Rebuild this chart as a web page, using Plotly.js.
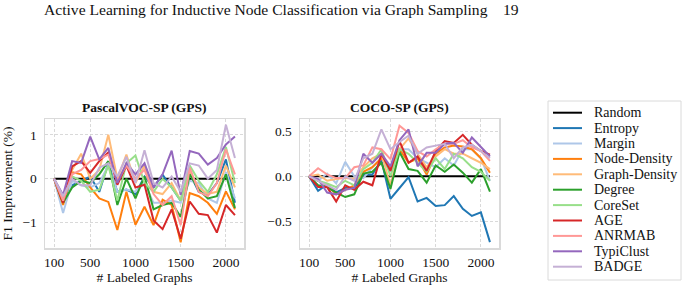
<!DOCTYPE html>
<html>
<head>
<meta charset="utf-8">
<script src="https://cdn.plot.ly/plotly-3.0.1.min.js"></script>
<style>
  html, body { margin: 0; padding: 0; background: #ffffff; }
  #chart { width: 694px; height: 293px; }
</style>
</head>
<body>
<div id="chart"></div>
<script>
// Labeled-graph budgets (x axis of both panels)
const budgets = [100, 200, 300, 400, 500, 600, 700, 800, 900, 1000, 1100,
                 1200, 1300, 1400, 1500, 1600, 1700, 1800, 1900, 2000, 2100];

const methods = ['Random', 'Entropy', 'Margin', 'Node-Density', 'Graph-Density',
                 'Degree', 'CoreSet', 'AGE', 'ANRMAB', 'TypiClust', 'BADGE'];

const methodColors = ['#000000', '#1f77b4', '#aec7e8', '#ff7f0e', '#ffbb78',
                      '#2ca02c', '#98df8a', '#d62728', '#ff9896', '#9467bd', '#c5b0d5'];

// PascalVOC-SP (GPS): F1 improvement over Random (%)
const vocRandom       = [0, 0, 0, 0, 0, 0, 0, 0, 0, 0, 0, 0, 0, 0, 0, 0, 0, 0, 0, 0, 0];
const vocEntropy      = [0, -0.50, -0.15, -0.05, 0.05, -0.30, 0.35, -0.30, -0.25, -0.35, 0.05, -0.20, 0.09, -0.20, -0.50, 0.12, -0.30, -0.37, -0.10, 0.44, -0.55];
const vocMargin       = [0, -0.78, -0.05, -0.15, -0.20, -0.10, 0.30, -0.30, -0.25, -0.30, -0.10, -0.55, -0.55, -0.50, -0.55, -0.05, -0.10, -0.45, -0.55, 0.15, -0.45];
const vocNodeDensity  = [0, -0.60, 0.15, 0.10, -0.20, -0.45, -0.53, -1.17, -0.30, -1.05, -0.64, -1.06, -0.48, -0.60, -1.45, -0.33, -0.40, -0.55, -0.80, -0.29, -0.70];
const vocGraphDensity = [0, -0.45, 0.20, 0.57, 0.00, 0.20, 1.00, 0.00, 0.55, -0.10, 0.30, -0.30, -0.35, -0.10, -0.50, 0.15, -0.20, -0.35, -0.30, 0.30, -0.20];
const vocDegree       = [0, -0.55, -0.20, -0.05, -0.10, 0.10, 0.40, -0.60, 0.00, -0.45, 0.05, -0.70, -0.60, -0.55, -0.87, 0.10, -0.25, -0.45, -0.40, 0.10, -0.67];
const vocCoreSet      = [0, -0.50, 0.05, -0.05, -0.30, -0.25, 0.30, -0.50, 0.35, 0.53, -0.10, -0.30, 0.00, -0.20, -0.50, 0.30, -0.05, -0.30, 0.10, 0.72, -0.10];
const vocAGE          = [0, -0.55, 0.28, 0.40, 0.13, 0.40, 0.60, -0.14, 0.30, -0.20, -0.14, -0.95, -1.15, -0.70, -1.37, -0.52, -0.80, -0.83, -1.23, -0.60, -0.83];
const vocANRMAB       = [0, -0.50, 0.10, 0.20, 0.40, 0.45, 0.55, -0.05, 0.30, 0.00, 0.20, -0.35, -0.60, -0.40, -1.06, 0.25, -0.30, -0.40, -0.10, 0.67, 0.10];
const vocTypiClust    = [0, -0.37, 0.40, 0.36, 0.96, 0.44, 0.70, -0.10, 0.36, 0.10, 0.35, -0.20, 0.10, 0.64, -0.37, 0.63, 0.57, 0.32, 0.47, 0.78, 0.96];
const vocBADGE        = [0, -0.40, 0.00, -0.15, -0.15, 0.25, 0.35, 0.05, 0.50, -0.10, 0.65, -0.10, -0.20, 0.05, -0.30, 0.35, 0.30, 0.00, 0.20, 1.23, 0.47];

// COCO-SP (GPS): F1 improvement over Random (%)
const cocoRandom       = [0, 0, 0, 0, 0, 0, 0, 0, 0, 0, 0, 0, 0, 0, 0, 0, 0, 0, 0, 0, 0];
const cocoEntropy      = [0, -0.16, -0.09, -0.18, -0.13, -0.13, 0.02, 0.02, 0.18, -0.25, -0.13, -0.01, -0.28, -0.24, -0.33, -0.32, -0.22, -0.36, -0.44, -0.40, -0.73];
const cocoMargin       = [0, -0.05, 0.03, -0.08, 0.16, 0.00, -0.02, 0.10, 0.20, 0.05, 0.30, 0.30, 0.20, 0.15, 0.10, 0.20, 0.12, 0.30, 0.30, 0.20, -0.05];
const cocoNodeDensity  = [0, -0.05, -0.10, -0.20, -0.15, -0.10, 0.05, 0.10, 0.20, 0.10, 0.30, 0.15, 0.20, 0.02, 0.25, 0.32, 0.34, 0.33, 0.30, 0.20, 0.04];
const cocoGraphDensity = [0, 0.02, -0.05, -0.03, -0.02, -0.03, 0.10, 0.20, 0.25, -0.10, 0.30, 0.42, 0.25, 0.10, 0.22, 0.30, 0.25, 0.25, 0.20, 0.15, 0.08];
const cocoDegree       = [0, -0.10, -0.12, -0.18, -0.23, -0.20, 0.03, 0.05, 0.15, -0.14, 0.27, 0.08, 0.06, -0.07, 0.12, 0.05, 0.13, 0.04, -0.07, 0.08, -0.17];
const cocoCoreSet      = [0, -0.05, -0.08, -0.12, -0.05, -0.10, 0.08, 0.15, 0.30, 0.00, 0.30, 0.25, 0.15, 0.05, 0.20, 0.08, 0.25, 0.20, 0.10, 0.05, -0.05];
const cocoAGE          = [0, -0.12, -0.12, -0.28, -0.10, -0.15, -0.06, -0.10, 0.25, 0.06, 0.39, 0.15, 0.22, 0.06, 0.28, 0.39, 0.37, 0.46, 0.35, 0.28, 0.24];
const cocoANRMAB       = [0, 0.09, 0.02, -0.02, -0.02, 0.10, 0.12, 0.32, 0.30, 0.19, 0.56, 0.48, 0.28, 0.22, 0.30, 0.36, 0.36, 0.40, 0.32, 0.28, 0.17];
const cocoTypiClust    = [0, -0.03, -0.18, -0.20, -0.15, -0.13, 0.25, 0.15, 0.25, 0.11, 0.40, 0.52, 0.11, 0.26, 0.26, 0.36, 0.37, 0.26, 0.43, 0.33, 0.22];
const cocoBADGE        = [0, -0.05, -0.10, -0.15, 0.00, -0.05, 0.20, 0.25, 0.52, 0.30, 0.38, 0.45, 0.25, 0.32, 0.34, 0.36, 0.20, 0.32, 0.35, 0.28, 0.20];

const vocSeries = [vocRandom, vocEntropy, vocMargin, vocNodeDensity, vocGraphDensity,
                   vocDegree, vocCoreSet, vocAGE, vocANRMAB, vocTypiClust, vocBADGE];
const cocoSeries = [cocoRandom, cocoEntropy, cocoMargin, cocoNodeDensity, cocoGraphDensity,
                    cocoDegree, cocoCoreSet, cocoAGE, cocoANRMAB, cocoTypiClust, cocoBADGE];

const serif = 'Liberation Serif';
const ink = '#111111';
const lineWidth = 2;
const traces = [];

methods.forEach((name, i) => {
  traces.push({
    x: budgets, y: vocSeries[i], xaxis: 'x', yaxis: 'y',
    type: 'scatter', mode: 'lines', name: name,
    line: { color: methodColors[i], width: lineWidth }
  });
  traces.push({
    x: budgets, y: cocoSeries[i], xaxis: 'x2', yaxis: 'y2',
    type: 'scatter', mode: 'lines', name: name,
    line: { color: methodColors[i], width: lineWidth }
  });
});

const W = 694, H = 293;
const px = v => v / W;
const py = v => 1 - v / H;

const axisCommon = {
  showline: true, mirror: true, linecolor: '#dadada', linewidth: 1.5,
  showgrid: true, gridcolor: '#cfcfcf', gridwidth: 0.8, griddash: '3px,2px',
  zeroline: false, ticks: 'outside', ticklen: 4, tickcolor: 'rgba(0,0,0,0)',
  tickfont: { family: serif, size: 13.5, color: ink }
};
const xAxisCommon = Object.assign({}, axisCommon, { ticklen: 1 });

// Compact legend box: one line sample and label per method
const legendLeft = 548, legendTop = 101, legendRight = 681, legendBottom = 280;
const rowTop = 112.7, rowStep = 15.4;
const shapes = [{
  type: 'rect', xref: 'paper', yref: 'paper',
  x0: px(legendLeft), x1: px(legendRight), y0: py(legendBottom), y1: py(legendTop),
  line: { color: '#dadada', width: 1 }, fillcolor: '#ffffff', layer: 'above'
}];
const annotations = [];
methods.forEach((name, i) => {
  const yRow = rowTop + i * rowStep;
  shapes.push({
    type: 'line', xref: 'paper', yref: 'paper',
    x0: px(553), x1: px(582), y0: py(yRow), y1: py(yRow),
    line: { color: methodColors[i], width: lineWidth }, layer: 'above'
  });
  annotations.push({
    text: name, xref: 'paper', yref: 'paper', x: px(592), y: py(yRow),
    xanchor: 'left', yanchor: 'middle', showarrow: false,
    font: { family: serif, size: 14, color: ink }
  });
});

annotations.push(
  { text: 'Active Learning for Inductive Node Classification via Graph Sampling',
    xref: 'paper', yref: 'paper', x: px(42), y: py(10), xanchor: 'left', yanchor: 'middle',
    showarrow: false, font: { family: serif, size: 15.6, color: ink } },
  { text: '19', xref: 'paper', yref: 'paper', x: px(521), y: py(10), xanchor: 'right', yanchor: 'middle',
    showarrow: false, font: { family: serif, size: 15.6, color: ink } },
  { text: '<b>PascalVOC-SP (GPS)</b>', xref: 'paper', yref: 'paper', x: px(144.5), y: py(108),
    xanchor: 'center', yanchor: 'middle', showarrow: false,
    font: { family: serif, size: 13.5, color: ink } },
  { text: '<b>COCO-SP (GPS)</b>', xref: 'paper', yref: 'paper', x: px(399.5), y: py(108),
    xanchor: 'center', yanchor: 'middle', showarrow: false,
    font: { family: serif, size: 13.5, color: ink } }
);

const layout = {
  width: W, height: H,
  margin: { l: 0, r: 0, t: 0, b: 0 },
  paper_bgcolor: '#ffffff', plot_bgcolor: '#ffffff',
  font: { family: serif, color: ink },
  showlegend: false,
  xaxis: Object.assign({}, xAxisCommon, {
    domain: [px(45), px(244)], anchor: 'y', range: [0, 2200],
    tickvals: [100, 500, 1000, 1500, 2000],
    title: { text: '# Labeled Graphs', font: { family: serif, size: 13.5, color: ink }, standoff: 4 }
  }),
  yaxis: Object.assign({}, axisCommon, {
    domain: [py(248), py(119)], anchor: 'x', range: [-1.58, 1.36],
    tickvals: [-1, 0, 1],
    title: { text: 'F1 Improvement (%)', font: { family: serif, size: 13.5, color: ink }, standoff: 6 }
  }),
  xaxis2: Object.assign({}, xAxisCommon, {
    domain: [px(300), px(499)], anchor: 'y2', range: [0, 2200],
    tickvals: [100, 500, 1000, 1500, 2000],
    title: { text: '# Labeled Graphs', font: { family: serif, size: 13.5, color: ink }, standoff: 4 }
  }),
  yaxis2: Object.assign({}, axisCommon, {
    domain: [py(248), py(119)], anchor: 'x2', range: [-0.795, 0.635],
    tickvals: [-0.5, 0, 0.5], tickformat: '.1f'
  }),
  shapes: shapes,
  annotations: annotations
};

Plotly.newPlot('chart', traces, layout, { staticPlot: true, displayModeBar: false });
</script>
</body>
</html>
